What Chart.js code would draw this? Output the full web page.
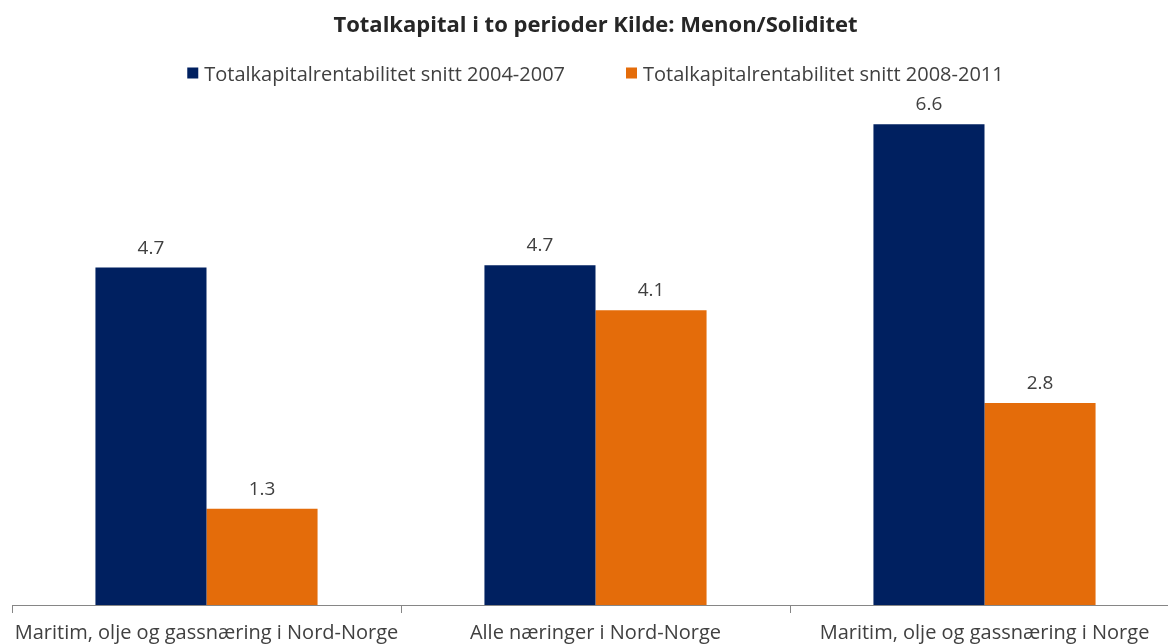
<!DOCTYPE html>
<html>
  <head>
    <title>Totalkapital i to perioder</title>
    <script src="https://cdn.jsdelivr.net/npm/chart.js"></script>
    <style>
      body {
        margin: 0;
        background: #fff;
        overflow: hidden;
      }

      #wrap {
        width: 1168px;
        height: 644px;
        overflow: hidden;
      }
    </style>
  </head>
  <body>
    <!-- lerretet er litt større enn vinduet, som i originalen der aksen går ut over kanten -->
    <div id="wrap"><canvas id="kapitalChart" width="1179" height="654"></canvas></div>

    <script>
      const categories = [
        'Maritim, olje og gassnæring i Nord-Norge',
        'Alle næringer i Nord-Norge',
        'Maritim, olje og gassnæring i Norge',
      ];
      const snitt2004 = [4.66, 4.69, 6.64];
      const snitt2008 = [1.33, 4.07, 2.79];

      const fontFam = '"Open Sans", "DejaVu Sans", sans-serif';
      const textColor = '#404040';

      // verdier over stolpene
      const barLabels = {
        id: 'barLabels',
        afterDatasetsDraw(chart) {
          const ctx = chart.ctx;
          ctx.save();
          ctx.font = '19px ' + fontFam;
          ctx.fillStyle = textColor;
          ctx.textAlign = 'center';
          ctx.textBaseline = 'alphabetic';
          chart.data.datasets.forEach((ds, i) => {
            chart.getDatasetMeta(i).data.forEach((bar, j) => {
              ctx.fillText(ds.data[j].toFixed(1), bar.x, bar.y - 14);
            });
          });
          ctx.restore();
        },
      };

      // egen forklaring, med større mellomrom mellom seriene
      const legendRow = {
        id: 'legendRow',
        afterDraw(chart) {
          const ctx = chart.ctx;
          const box = 11;
          const gap = 6;
          const spacing = 61;
          const baseY = 81;
          ctx.save();
          ctx.font = '20px ' + fontFam;
          ctx.textBaseline = 'alphabetic';
          ctx.textAlign = 'left';
          const items = chart.data.datasets.map((ds) => ({
            text: ds.label,
            color: ds.backgroundColor,
            w: ctx.measureText(ds.label).width,
          }));
          let total = 0;
          items.forEach((it, i) => {
            total += box + gap + it.w + (i > 0 ? spacing : 0);
          });
          const area = chart.chartArea;
          let x = (area.left + area.right) / 2 - total / 2;
          items.forEach((it) => {
            ctx.fillStyle = it.color;
            ctx.fillRect(x, baseY - 13.5, box, box);
            ctx.fillStyle = textColor;
            ctx.fillText(it.text, x + box + gap, baseY);
            x += box + gap + it.w + spacing;
          });
          ctx.restore();
        },
      };

      const ctx = document.getElementById('kapitalChart').getContext('2d');
      const chart = new Chart(ctx, {
        type: 'bar',
        data: {
          labels: categories,
          datasets: [
            {
              label: 'Totalkapitalrentabilitet snitt 2004-2007',
              data: snitt2004,
              backgroundColor: '#002060',
            },
            {
              label: 'Totalkapitalrentabilitet snitt 2008-2011',
              data: snitt2008,
              backgroundColor: '#E46C0A',
            },
          ],
        },
        options: {
          responsive: false,
          animation: false,
          layout: {
            padding: { left: 12, right: 0, top: 0, bottom: 0 },
          },
          datasets: {
            bar: {
              categoryPercentage: 0.571,
              barPercentage: 1.0,
            },
          },
          plugins: {
            title: {
              display: true,
              text: 'Totalkapital i to perioder Kilde: Menon/Soliditet',
              color: '#262626',
              font: { family: fontFam, size: 22, weight: 'bold' },
              padding: { top: 13, bottom: 50 },
            },
            legend: { display: false },
            tooltip: { enabled: false },
          },
          scales: {
            x: {
              grid: {
                display: true,
                drawOnChartArea: false,
                drawTicks: true,
                tickLength: 8,
                color: '#868686',
              },
              border: { display: true, color: '#868686' },
              ticks: {
                color: textColor,
                font: { family: fontFam, size: 20, lineHeight: 1.0 },
                padding: 10.5,
                maxRotation: 0,
                autoSkip: false,
              },
            },
            y: {
              display: false,
              min: 0,
              max: 7.12,
            },
          },
        },
        plugins: [barLabels, legendRow],
      });
    </script>
  </body>
</html>
